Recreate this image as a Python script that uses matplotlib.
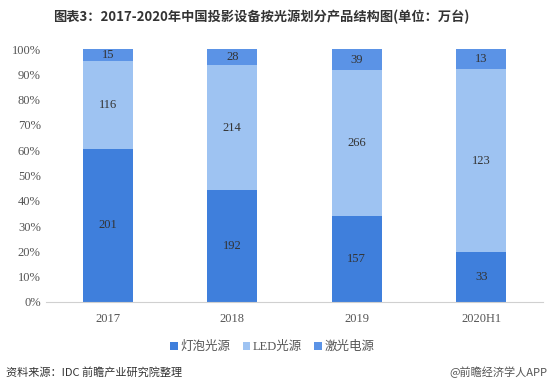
import numpy as np
import matplotlib
matplotlib.use('Agg')
from matplotlib import pyplot as plt
from matplotlib.ticker import PercentFormatter

plt.rcParams['font.family'] = ['Liberation Serif', 'Noto Sans CJK SC', 'DejaVu Sans']

# 데이터
years = ['2017', '2018', '2019', '2020H1']
series_names = ['灯泡光源', 'LED光源', '激光电源']
bulb = [201, 192, 157, 33]
led = [116, 214, 266, 123]
laser = [15, 28, 39, 13]
colors = ['#3f7fdc', '#9ec3f2', '#5b93e6']

values = np.array([bulb, led, laser], dtype=float)
shares = values / values.sum(axis=0) * 100

fig = plt.figure(figsize=(5.5, 3.84), dpi=100)
ax = fig.add_axes([0.083, 0.214, 0.905, 0.658])

x = np.arange(len(years))
bottom = np.zeros(len(years))
for i in range(3):
    ax.bar(x, shares[i], 0.4, bottom=bottom, color=colors[i], label=series_names[i])
    for j in range(len(years)):
        ax.text(x[j], bottom[j] + shares[i][j] / 2, str(int(values[i][j])),
                ha='center', va='center', fontsize=9, color='#333333')
    bottom += shares[i]

ax.set_xlim(-0.5, 3.5)
ax.set_ylim(0, 100)
ax.set_yticks(np.arange(0, 101, 10))
ax.yaxis.set_major_formatter(PercentFormatter(decimals=0))
ax.set_xticks(x)
ax.set_xticklabels(years)
ax.tick_params(axis='both', length=0, labelsize=9, colors='#555555')
ax.tick_params(axis='x', pad=8)
for s in ['top', 'right', 'left']:
    ax.spines[s].set_visible(False)
ax.spines['bottom'].set_color('#d0d0d0')

leg = ax.legend(loc='upper center', bbox_to_anchor=(0.455, -0.11), ncol=3, frameon=False,
                fontsize=9, handlelength=0.6, handleheight=0.6, columnspacing=1.0, handletextpad=0.2)
for t in leg.get_texts():
    t.set_color('#555555')

fig.text(0.475, 0.955, '图表3：2017-2020年中国投影设备按光源划分产品结构图(单位：万台)',
         ha='center', va='center', fontsize=9.5, fontweight='bold',
         family=['Noto Sans CJK SC'], color='#333333')
fig.text(0.01, 0.03, '资料来源：IDC 前瞻产业研究院整理', ha='left', va='center',
         fontsize=8, family=['Noto Sans CJK SC'], color='#333333')
fig.text(0.995, 0.03, '@前瞻经济学人APP', ha='right', va='center',
         fontsize=8, family=['Noto Sans CJK SC'], color='#555555')

fig.savefig('out.png', dpi=100)
